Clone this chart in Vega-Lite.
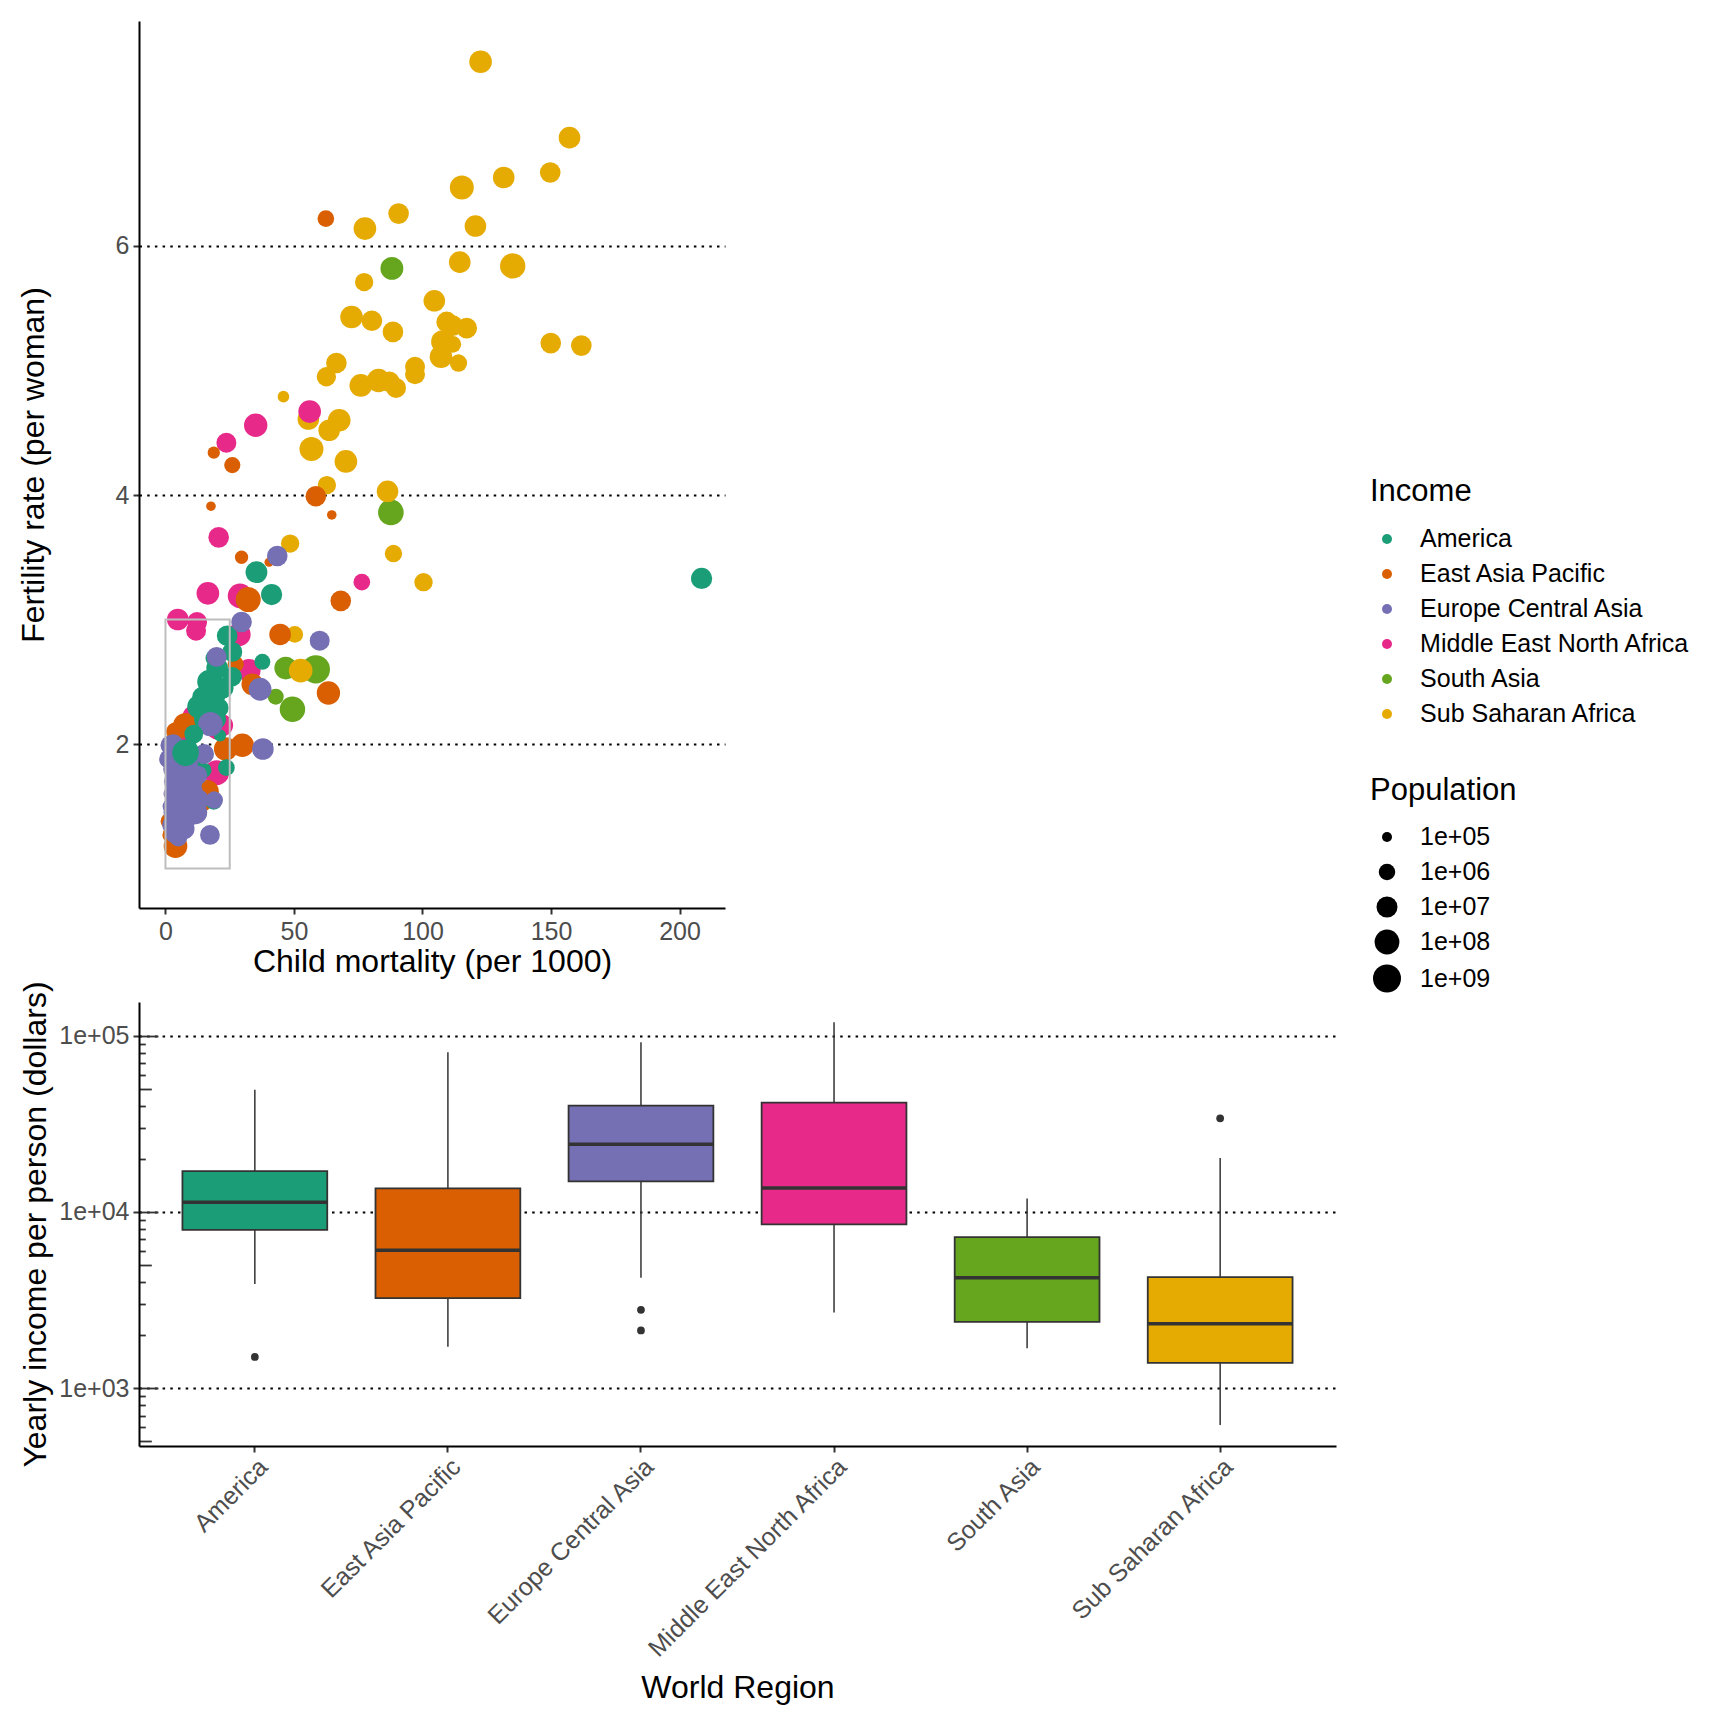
{
"$schema": "https://vega.github.io/schema/vega-lite/v6.json",
"padding": {"left": 17, "top": 21, "right": 5, "bottom": 5},
"bounds": "flush",
"spacing": 94,
"config": {
 "view": {"stroke": null},
 "font": "Liberation Sans",
 "axis": {"domainColor": "black", "domainWidth": 2, "tickColor": "#333333", "tickWidth": 2, "labelColor": "#4D4D4D", "labelFontSize": 25, "titleFontSize": 32, "titleFontWeight": "normal", "titleColor": "black", "grid": false, "labelFlush": false, "labelOverlap": false, "labelLimit": 0},
 "legend": {"padding": 0, "titleFontSize": 31, "titleFontWeight": "normal", "titleColor": "black", "labelFontSize": 25, "labelColor": "black", "rowPadding": 9, "labelLimit": 0}
},
"resolve": {"scale": {"color": "independent", "size": "independent", "fill": "independent"}, "legend": {"color": "independent", "size": "independent"}},
"vconcat": [
 {
  "width": 586, "height": 887,
  "layer": [
   {
    "data": {"values": [
{"region":"South Asia","mort":88.1,"fert":5.82,"pop":3e7},
{"region":"South Asia","mort":87.7,"fert":3.86,"pop":1.8e8},
{"region":"South Asia","mort":46.8,"fert":2.61,"pop":2.8e7},
{"region":"South Asia","mort":58.5,"fert":2.6,"pop":1.3e9},
{"region":"South Asia","mort":42.9,"fert":2.38,"pop":8e5},
{"region":"South Asia","mort":49.4,"fert":2.28,"pop":1.6e8},
{"region":"South Asia","mort":12.3,"fert":2.23,"pop":2e7},
{"region":"South Asia","mort":9.0,"fert":2.15,"pop":4e5},
{"region":"Sub Saharan Africa","mort":122.6,"fert":7.48,"pop":2.6e7},
{"region":"Sub Saharan Africa","mort":157.2,"fert":6.87,"pop":1.4e7},
{"region":"Sub Saharan Africa","mort":131.6,"fert":6.55,"pop":1.4e7},
{"region":"Sub Saharan Africa","mort":149.7,"fert":6.59,"pop":8e6},
{"region":"Sub Saharan Africa","mort":115.3,"fert":6.47,"pop":6e7},
{"region":"Sub Saharan Africa","mort":77.6,"fert":6.14,"pop":2.6e7},
{"region":"Sub Saharan Africa","mort":90.7,"fert":6.26,"pop":8e6},
{"region":"Sub Saharan Africa","mort":120.6,"fert":6.16,"pop":1.4e7},
{"region":"Sub Saharan Africa","mort":114.5,"fert":5.87,"pop":1.4e7},
{"region":"Sub Saharan Africa","mort":135.1,"fert":5.84,"pop":1.5e8},
{"region":"Sub Saharan Africa","mort":77.3,"fert":5.71,"pop":2.4e6},
{"region":"Sub Saharan Africa","mort":104.6,"fert":5.56,"pop":1.4e7},
{"region":"Sub Saharan Africa","mort":72.4,"fert":5.43,"pop":2.6e7},
{"region":"Sub Saharan Africa","mort":80.3,"fert":5.40,"pop":8e6},
{"region":"Sub Saharan Africa","mort":88.5,"fert":5.31,"pop":8e6},
{"region":"Sub Saharan Africa","mort":109.4,"fert":5.39,"pop":8e6},
{"region":"Sub Saharan Africa","mort":111.8,"fert":5.36,"pop":8e6},
{"region":"Sub Saharan Africa","mort":117.2,"fert":5.34,"pop":8e6},
{"region":"Sub Saharan Africa","mort":107.9,"fert":5.23,"pop":4e7},
{"region":"Sub Saharan Africa","mort":111.8,"fert":5.21,"pop":1.1e6},
{"region":"Sub Saharan Africa","mort":107.2,"fert":5.11,"pop":2.6e7},
{"region":"Sub Saharan Africa","mort":114.0,"fert":5.06,"pop":1.5e6},
{"region":"Sub Saharan Africa","mort":149.9,"fert":5.22,"pop":8e6},
{"region":"Sub Saharan Africa","mort":161.8,"fert":5.20,"pop":8e6},
{"region":"Sub Saharan Africa","mort":66.5,"fert":5.06,"pop":8e6},
{"region":"Sub Saharan Africa","mort":62.6,"fert":4.95,"pop":4e6},
{"region":"Sub Saharan Africa","mort":97.1,"fert":5.03,"pop":5.6e6},
{"region":"Sub Saharan Africa","mort":97.1,"fert":4.97,"pop":5.6e6},
{"region":"Sub Saharan Africa","mort":76.0,"fert":4.88,"pop":2.6e7},
{"region":"Sub Saharan Africa","mort":82.9,"fert":4.92,"pop":4e7},
{"region":"Sub Saharan Africa","mort":87.1,"fert":4.91,"pop":8e6},
{"region":"Sub Saharan Africa","mort":89.7,"fert":4.86,"pop":5.6e6},
{"region":"Sub Saharan Africa","mort":45.9,"fert":4.79,"pop":1.6e5},
{"region":"Sub Saharan Africa","mort":55.6,"fert":4.61,"pop":1.4e7},
{"region":"Sub Saharan Africa","mort":67.6,"fert":4.60,"pop":2.6e7},
{"region":"Sub Saharan Africa","mort":63.7,"fert":4.52,"pop":1.4e7},
{"region":"Sub Saharan Africa","mort":56.8,"fert":4.37,"pop":6e7},
{"region":"Sub Saharan Africa","mort":70.2,"fert":4.27,"pop":2.6e7},
{"region":"Sub Saharan Africa","mort":62.8,"fert":4.08,"pop":2.4e6},
{"region":"Sub Saharan Africa","mort":86.4,"fert":4.03,"pop":1.4e7},
{"region":"Sub Saharan Africa","mort":48.5,"fert":3.61,"pop":2.4e6},
{"region":"Sub Saharan Africa","mort":88.7,"fert":3.53,"pop":1.5e6},
{"region":"Sub Saharan Africa","mort":100.4,"fert":3.30,"pop":2.4e6},
{"region":"Sub Saharan Africa","mort":50.3,"fert":2.88,"pop":1.1e6},
{"region":"Sub Saharan Africa","mort":52.6,"fert":2.59,"pop":5e7},
{"region":"Sub Saharan Africa","mort":14.3,"fert":2.35,"pop":6e4},
{"region":"Sub Saharan Africa","mort":17.5,"fert":1.60,"pop":1.2e6},
{"region":"Middle East North Africa","mort":56.1,"fert":4.67,"pop":2.6e7},
{"region":"Middle East North Africa","mort":35.1,"fert":4.56,"pop":4e7},
{"region":"Middle East North Africa","mort":23.7,"fert":4.42,"pop":5.6e6},
{"region":"Middle East North Africa","mort":20.7,"fert":3.66,"pop":8e6},
{"region":"Middle East North Africa","mort":76.4,"fert":3.30,"pop":1.1e6},
{"region":"Middle East North Africa","mort":16.5,"fert":3.21,"pop":2.6e7},
{"region":"Middle East North Africa","mort":29.0,"fert":3.19,"pop":9e7},
{"region":"Middle East North Africa","mort":4.8,"fert":3.00,"pop":1.4e7},
{"region":"Middle East North Africa","mort":12.3,"fert":2.98,"pop":5.6e6},
{"region":"Middle East North Africa","mort":11.9,"fert":2.91,"pop":5.6e6},
{"region":"Middle East North Africa","mort":28.6,"fert":2.88,"pop":4e7},
{"region":"Middle East North Africa","mort":32.5,"fert":2.59,"pop":3.4e7},
{"region":"Middle East North Africa","mort":10.4,"fert":2.23,"pop":3e6},
{"region":"Middle East North Africa","mort":20.1,"fert":2.12,"pop":1e7},
{"region":"Middle East North Africa","mort":19.9,"fert":1.77,"pop":1.2e8},
{"region":"Middle East North Africa","mort":9.7,"fert":1.62,"pop":4e6},
{"region":"Middle East North Africa","mort":6.5,"fert":2.09,"pop":3e6},
{"region":"Middle East North Africa","mort":22.1,"fert":2.15,"pop":1.5e7},
{"region":"East Asia Pacific","mort":62.4,"fert":6.22,"pop":1.1e6},
{"region":"East Asia Pacific","mort":18.8,"fert":4.34,"pop":2e5},
{"region":"East Asia Pacific","mort":26.0,"fert":4.24,"pop":9e5},
{"region":"East Asia Pacific","mort":17.7,"fert":3.91,"pop":9e4},
{"region":"East Asia Pacific","mort":58.5,"fert":3.99,"pop":8e6},
{"region":"East Asia Pacific","mort":64.7,"fert":3.84,"pop":9e4},
{"region":"East Asia Pacific","mort":29.6,"fert":3.50,"pop":2.8e5},
{"region":"East Asia Pacific","mort":40.3,"fert":3.46,"pop":8e4},
{"region":"East Asia Pacific","mort":32.2,"fert":3.16,"pop":1.2e8},
{"region":"East Asia Pacific","mort":68.2,"fert":3.15,"pop":8e6},
{"region":"East Asia Pacific","mort":44.6,"fert":2.88,"pop":1.4e7},
{"region":"East Asia Pacific","mort":63.4,"fert":2.41,"pop":4e7},
{"region":"East Asia Pacific","mort":33.8,"fert":2.48,"pop":1.5e7},
{"region":"East Asia Pacific","mort":29.9,"fert":1.99,"pop":4e7},
{"region":"East Asia Pacific","mort":23.4,"fert":1.96,"pop":4e7},
{"region":"East Asia Pacific","mort":27.3,"fert":2.64,"pop":9e5},
{"region":"East Asia Pacific","mort":7.8,"fert":2.15,"pop":1e8},
{"region":"East Asia Pacific","mort":3.9,"fert":2.10,"pop":3e6},
{"region":"East Asia Pacific","mort":16.3,"fert":1.62,"pop":3e7},
{"region":"East Asia Pacific","mort":13.6,"fert":1.56,"pop":3e8},
{"region":"East Asia Pacific","mort":1.3,"fert":1.38,"pop":1e6},
{"region":"East Asia Pacific","mort":2.3,"fert":1.27,"pop":2e6},
{"region":"East Asia Pacific","mort":3.9,"fert":1.18,"pop":5e7},
{"region":"America","mort":208.6,"fert":3.33,"pop":1.1e7},
{"region":"America","mort":35.4,"fert":3.38,"pop":1.6e7},
{"region":"America","mort":41.3,"fert":3.20,"pop":1.1e7},
{"region":"America","mort":24.0,"fert":2.87,"pop":8e6},
{"region":"America","mort":37.7,"fert":2.66,"pop":8e5},
{"region":"America","mort":26.0,"fert":2.74,"pop":5.6e6},
{"region":"America","mort":18.8,"fert":2.69,"pop":1.1e6},
{"region":"America","mort":20.1,"fert":2.61,"pop":1.5e7},
{"region":"America","mort":26.0,"fert":2.54,"pop":4e6},
{"region":"America","mort":16.9,"fert":2.50,"pop":4e7},
{"region":"America","mort":18.2,"fert":2.46,"pop":2e8},
{"region":"America","mort":14.3,"fert":2.38,"pop":5.6e6},
{"region":"America","mort":19.5,"fert":2.39,"pop":5.6e6},
{"region":"America","mort":18.2,"fert":2.28,"pop":4e7},
{"region":"America","mort":20.8,"fert":2.29,"pop":4e6},
{"region":"America","mort":19.5,"fert":2.20,"pop":1e7},
{"region":"America","mort":21.2,"fert":2.07,"pop":2e5},
{"region":"America","mort":11.0,"fert":1.85,"pop":5.4e5},
{"region":"America","mort":15.0,"fert":1.79,"pop":5.4e5},
{"region":"America","mort":23.7,"fert":1.81,"pop":1.1e6},
{"region":"America","mort":7.1,"fert":1.67,"pop":4e6},
{"region":"America","mort":18.8,"fert":1.54,"pop":1.1e6},
{"region":"America","mort":13.0,"fert":2.30,"pop":4e7},
{"region":"America","mort":22.5,"fert":2.45,"pop":8e6},
{"region":"America","mort":16.0,"fert":2.20,"pop":1.2e8},
{"region":"Europe Central Asia","mort":43.5,"fert":3.51,"pop":8e6},
{"region":"Europe Central Asia","mort":60.0,"fert":2.83,"pop":5.6e6},
{"region":"Europe Central Asia","mort":29.6,"fert":2.98,"pop":8e6},
{"region":"Europe Central Asia","mort":36.8,"fert":2.44,"pop":3e7},
{"region":"Europe Central Asia","mort":37.9,"fert":1.96,"pop":1.4e7},
{"region":"Europe Central Asia","mort":17.5,"fert":2.16,"pop":8e7},
{"region":"Europe Central Asia","mort":19.9,"fert":2.70,"pop":5.6e6},
{"region":"Europe Central Asia","mort":15.0,"fert":1.92,"pop":5.6e6},
{"region":"Europe Central Asia","mort":17.3,"fert":1.27,"pop":5e6},
{"region":"Europe Central Asia","mort":11.7,"fert":1.45,"pop":4e7},
{"region":"Europe Central Asia","mort":7.1,"fert":1.32,"pop":1.4e7},
{"region":"Europe Central Asia","mort":5.2,"fert":1.80,"pop":6e7},
{"region":"Europe Central Asia","mort":1.3,"fert":1.88,"pop":4e6},
{"region":"Europe Central Asia","mort":1.9,"fert":1.99,"pop":5e6},
{"region":"Europe Central Asia","mort":19.0,"fert":1.55,"pop":1.5e6},
{"region":"Europe Central Asia","mort":3.0,"fert":2.00,"pop":5e6},
{"region":"Europe Central Asia","mort":4.6,"fert":1.61,"pop":4e7},
{"region":"Europe Central Asia","mort":3.2,"fert":1.50,"pop":1e7},
{"region":"Europe Central Asia","mort":4.0,"fert":1.45,"pop":8e7},
{"region":"Europe Central Asia","mort":3.5,"fert":1.70,"pop":1e7},
{"region":"Europe Central Asia","mort":2.8,"fert":1.85,"pop":4e6},
{"region":"Europe Central Asia","mort":4.3,"fert":1.95,"pop":6e7},
{"region":"Europe Central Asia","mort":6.0,"fert":1.55,"pop":1e7},
{"region":"Europe Central Asia","mort":5.5,"fert":1.40,"pop":4e7},
{"region":"Europe Central Asia","mort":8.5,"fert":1.50,"pop":1e7},
{"region":"Europe Central Asia","mort":9.5,"fert":1.70,"pop":1.4e8},
{"region":"Europe Central Asia","mort":6.5,"fert":1.75,"pop":4e6},
{"region":"Europe Central Asia","mort":2.5,"fert":1.35,"pop":4e6},
{"region":"Europe Central Asia","mort":3.8,"fert":1.28,"pop":5e6},
{"region":"Europe Central Asia","mort":5.0,"fert":1.25,"pop":2e6},
{"region":"Europe Central Asia","mort":7.5,"fert":1.60,"pop":1.5e7},
{"region":"Europe Central Asia","mort":10.5,"fert":1.62,"pop":9e6},
{"region":"Europe Central Asia","mort":8.0,"fert":1.40,"pop":3e6},
{"region":"Europe Central Asia","mort":1.5,"fert":1.50,"pop":3e5},
{"region":"Europe Central Asia","mort":2.0,"fert":1.60,"pop":4e5},
{"region":"Europe Central Asia","mort":6.0,"fert":1.95,"pop":5e6},
{"region":"Europe Central Asia","mort":9.0,"fert":1.85,"pop":3e6},
{"region":"Europe Central Asia","mort":12.5,"fert":1.75,"pop":4e6},
{"region":"Europe Central Asia","mort":3.2,"fert":1.80,"pop":1e7},
{"region":"Europe Central Asia","mort":2.5,"fert":1.45,"pop":5e5},
{"region":"Europe Central Asia","mort":4.5,"fert":1.35,"pop":2e6},
{"region":"Europe Central Asia","mort":13.0,"fert":1.55,"pop":7e6},
{"region":"Europe Central Asia","mort":10.0,"fert":1.42,"pop":2e6},
{"region":"America","mort":9.0,"fert":1.95,"pop":5e6},
{"region":"America","mort":11.0,"fert":2.08,"pop":3e6},
{"region":"America","mort":7.8,"fert":1.93,"pop":3.2e8}
    ]},
    "mark": {"type": "point", "filled": true, "shape": "circle", "opacity": 1, "strokeWidth": 0},
    "encoding": {
     "x": {"field": "mort", "type": "quantitative", "scale": {"domain": [-10.3, 217.7], "nice": false, "zero": false},
      "axis": {"title": "Child mortality (per 1000)", "values": [0, 50, 100, 150, 200], "tickSize": 6, "labelPadding": 5, "titlePadding": 2}},
     "y": {"field": "fert", "type": "quantitative", "scale": {"domain": [0.683, 7.807], "nice": false, "zero": false},
      "axis": {"title": "Fertility rate (per woman)", "values": [2, 4, 6], "format": "d", "tickSize": 6, "labelPadding": 4, "titlePadding": 65, "grid": true, "gridColor": "black", "gridWidth": 2, "gridDash": [2.5, 5.2]}},
     "color": {"field": "region", "type": "nominal",
      "scale": {"domain": ["America", "East Asia Pacific", "Europe Central Asia", "Middle East North Africa", "South Asia", "Sub Saharan Africa"], "range": ["#1B9E77", "#D95F02", "#7570B3", "#E7298A", "#66A61E", "#E6AB02"]},
      "legend": {"title": "Income", "orient": "none", "legendX": 1231, "legendY": 455.5, "symbolType": "circle", "symbolSize": 100, "symbolStrokeWidth": 0, "symbolOpacity": 1, "symbolOffset": 4.5, "labelOffset": 20.6, "titlePadding": 19, "rowPadding": 9}},
     "size": {"field": "pop", "type": "quantitative",
      "scale": {"type": "log", "domain": [100000, 1000000000], "range": [100, 784]},
      "legend": {"title": "Population", "orient": "none", "legendX": 1231, "legendY": 754.5, "values": [100000, 1000000, 10000000, 100000000, 1000000000], "labelExpr": "'1e+0' + round(log(datum.value)/LN10)", "symbolType": "circle", "symbolFillColor": "black", "symbolStrokeWidth": 0, "symbolOpacity": 1, "symbolOffset": 3, "labelOffset": 19, "titlePadding": 18, "rowPadding": 9}}
    }
   },
   {
    "data": {"values": [{"mort": 0, "mort_end": 25, "fert": 1, "fert_end": 3}]},
    "mark": {"type": "rect", "fillOpacity": 0, "fill": "white", "stroke": "#BEBEBE", "strokeWidth": 2},
    "encoding": {
     "x": {"field": "mort", "type": "quantitative", "axis": {"title": "Child mortality (per 1000)"}},
     "x2": {"field": "mort_end"},
     "y": {"field": "fert", "type": "quantitative", "axis": {"title": "Fertility rate (per woman)"}},
     "y2": {"field": "fert_end"}
    }
   }
  ]
 },
 {
  "width": 1197, "height": 444,
  "layer": [
   {
    "data": {"name": "stats", "values": [
{"region":"America","lower":3900,"q1":7925,"median":11340,"q3":17060,"upper":49370},
{"region":"East Asia Pacific","lower":1718,"q1":3245,"median":6070,"q3":13610,"upper":80500},
{"region":"Europe Central Asia","lower":4240,"q1":14930,"median":24200,"q3":40100,"upper":91700},
{"region":"Middle East North Africa","lower":2693,"q1":8510,"median":13700,"q3":41700,"upper":119100},
{"region":"South Asia","lower":1685,"q1":2383,"median":4240,"q3":7210,"upper":11940},
{"region":"Sub Saharan Africa","lower":618,"q1":1393,"median":2321,"q3":4272,"upper":20230}
    ]},
    "mark": {"type": "rule", "color": "#333333", "strokeWidth": 1.5},
    "encoding": {
     "x": {"field": "region", "type": "nominal", "sort": null,
      "scale": {"domain": ["America", "East Asia Pacific", "Europe Central Asia", "Middle East North Africa", "South Asia", "Sub Saharan Africa"], "paddingInner": 0.25, "paddingOuter": 0.225},
      "axis": {"title": "World Region", "labelAngle": -45, "labelAlign": "right", "labelBaseline": "top", "tickSize": 6, "labelPadding": 2, "titlePadding": 26}},
     "y": {"field": "lower", "type": "quantitative", "scale": {"type": "log", "domain": [470.5, 155300], "nice": false},
      "axis": {"orient": "left", "title": null, "labels": false, "domain": false, "grid": false, "tickWidth": 1.8,
       "values": [500, 600, 700, 800, 900, 1000, 2000, 3000, 4000, 5000, 6000, 7000, 8000, 9000, 10000, 20000, 30000, 40000, 50000, 60000, 70000, 80000, 90000, 100000],
       "tickSize": {"condition": [{"test": "abs(log(datum.value)/LN10 - round(log(datum.value)/LN10)) < 0.001", "value": -19}, {"test": "abs(log(datum.value/5)/LN10 - round(log(datum.value/5)/LN10)) < 0.001", "value": -12.3}], "value": -6.3}}},
     "y2": {"field": "upper"}
    }
   },
   {
    "data": {"name": "stats"},
    "mark": {"type": "bar", "stroke": "#333333", "strokeWidth": 1.8},
    "encoding": {
     "x": {"field": "region", "type": "nominal", "sort": null},
     "y": {"field": "q1", "type": "quantitative",
      "axis": {"orient": "left", "title": "Yearly income per person (dollars)", "values": [1000, 10000, 100000], "labelExpr": "'1e+0' + round(log(datum.value)/LN10)", "tickSize": 6, "labelPadding": 4, "titlePadding": 6, "grid": true, "gridColor": "black", "gridWidth": 2, "gridDash": [2.5, 5.2]}},
     "y2": {"field": "q3"},
     "fill": {"field": "region", "type": "nominal", "legend": null,
      "scale": {"domain": ["America", "East Asia Pacific", "Europe Central Asia", "Middle East North Africa", "South Asia", "Sub Saharan Africa"], "range": ["#1B9E77", "#D95F02", "#7570B3", "#E7298A", "#66A61E", "#E6AB02"]}}
    }
   },
   {
    "data": {"name": "stats"},
    "mark": {"type": "tick", "color": "#333333", "thickness": 3.5, "size": 145, "opacity": 1},
    "encoding": {
     "x": {"field": "region", "type": "nominal", "sort": null},
     "y": {"field": "median", "type": "quantitative", "axis": null}
    }
   },
   {
    "data": {"values": [
{"region":"America","income":1507},
{"region":"Europe Central Asia","income":2786},
{"region":"Europe Central Asia","income":2128},
{"region":"Sub Saharan Africa","income":33970}
    ]},
    "mark": {"type": "point", "filled": true, "shape": "circle", "color": "#333333", "opacity": 1, "size": 60, "strokeWidth": 0},
    "encoding": {
     "x": {"field": "region", "type": "nominal", "sort": null},
     "y": {"field": "income", "type": "quantitative", "axis": null}
    }
   }
  ],
  "resolve": {"axis": {"y": "independent"}}
 }
]
}
